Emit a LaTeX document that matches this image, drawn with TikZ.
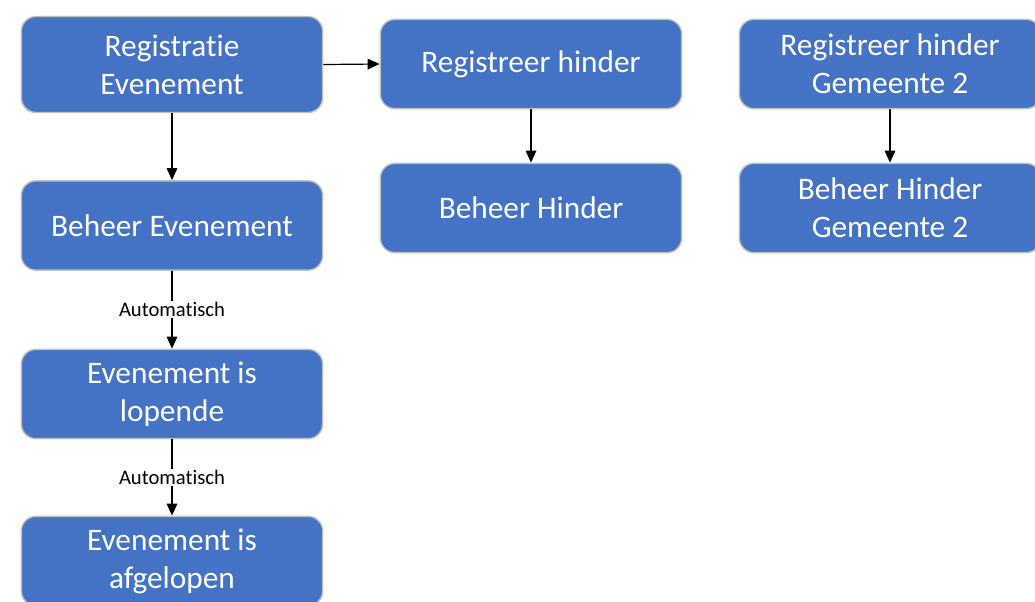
\documentclass[tikz,border=0pt]{standalone}
\usepackage{fontspec}
\setmainfont[Ligatures={NoCommon}]{Carlito}
\usetikzlibrary{arrows.meta}
\definecolor{boxblue}{HTML}{4472C4}
\definecolor{boxrim}{HTML}{C0C0C0}
\tikzset{stap/.style={draw=boxrim,line width=1.1pt,fill=boxblue,text=white,
    rounded corners=11pt,minimum width=226pt,minimum height=67pt,
    align=center,font=\fontsize{23.5}{28.5}\selectfont},
  pijl/.style={-{Triangle[length=9pt,width=8pt]},line width=0.9pt},
  auto label/.style={fill=white,inner sep=1pt,font=\fontsize{15.5}{17}\selectfont}}

\begin{document}
\begin{tikzpicture}[x=0.75pt,y=-0.75pt]
    \useasboundingbox (0,0) rectangle (1035,601);
    % linker kolom: evenement
    \node [stap,minimum height=72pt] (registratie) at (172,64.5) {Registratie\\Evenement};
    \node [stap] (beheerev) at (172,225.5) {Beheer Evenement};
    \node [stap] (lopende) at (172,394) {Evenement is\\lopende};
    \node [stap] (afgelopen) at (172,561) {Evenement is\\afgelopen};
    % hinder
    \node [stap] (reghinder) at (531,64) {Registreer hinder};
    \node [stap] (beheerhinder) at (531,208) {Beheer Hinder};
    % gemeente 2
    \node [stap] (reghinder2) at (890,64) {Registreer hinder\\Gemeente 2};
    \node [stap] (beheerhinder2) at (890,208) {Beheer Hinder\\Gemeente 2};

    \draw [pijl] (registratie.east) -- (reghinder.west);
    \draw [pijl] (registratie) -- (beheerev);
    \draw [pijl] (beheerev) -- node [auto label] {Automatisch} (lopende);
    \draw [pijl] (lopende) -- node [auto label] {Automatisch} (afgelopen);
    \draw [pijl] (reghinder) -- (beheerhinder);
    \draw [pijl] (reghinder2) -- (beheerhinder2);
\end{tikzpicture}
\end{document}
